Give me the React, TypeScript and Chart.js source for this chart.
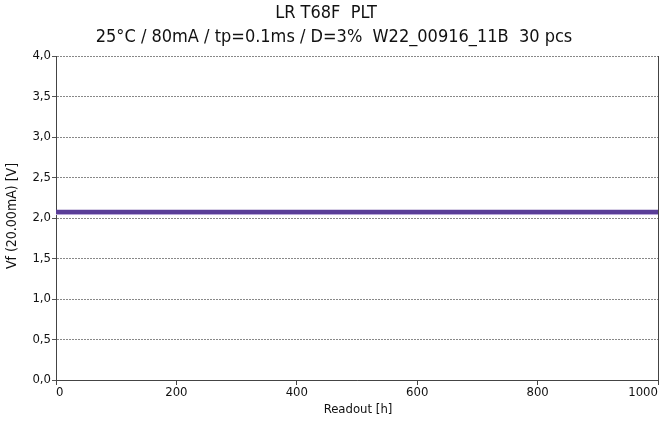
import React, { useEffect, useRef } from "react";
import { Chart, registerables } from "chart.js";

Chart.register(...registerables);

const titleLines = ["LR T68F  PLT", "25°C / 80mA / tp=0.1ms / D=3%  W22_00916_11B  30 pcs"];
const xTitle = "Readout [h]";
const yTitle = "Vf (20.00mA) [V]";
const readouts = [0, 168, 500, 1000];
const vf0 = [2.08, 2.072, 2.086, 2.075, 2.066, 2.083, 2.077, 2.07, 2.081, 2.068, 2.088, 2.075, 2.078, 2.071, 2.084, 2.076, 2.065, 2.082, 2.07, 2.079, 2.074, 2.087, 2.068, 2.076, 2.081, 2.07, 2.078, 2.074, 2.085, 2.05];
const vf168 = [2.08, 2.072, 2.086, 2.075, 2.066, 2.083, 2.077, 2.07, 2.081, 2.068, 2.088, 2.075, 2.078, 2.071, 2.084, 2.076, 2.065, 2.082, 2.07, 2.079, 2.074, 2.087, 2.068, 2.076, 2.081, 2.07, 2.078, 2.074, 2.085, 2.05];
const vf500 = [2.08, 2.072, 2.086, 2.075, 2.066, 2.083, 2.077, 2.07, 2.081, 2.068, 2.088, 2.075, 2.078, 2.071, 2.084, 2.076, 2.065, 2.082, 2.07, 2.079, 2.074, 2.087, 2.068, 2.076, 2.081, 2.07, 2.078, 2.074, 2.085, 2.05];
const vf1000 = [2.08, 2.072, 2.086, 2.075, 2.066, 2.083, 2.077, 2.07, 2.081, 2.068, 2.088, 2.075, 2.078, 2.071, 2.084, 2.076, 2.065, 2.082, 2.07, 2.079, 2.074, 2.087, 2.068, 2.076, 2.081, 2.07, 2.078, 2.074, 2.085, 2.05];
const seriesColors = ["#5b3f98", "#b8a8d8"];

const FONT = "'DejaVu Sans Condensed', 'DejaVu Sans', sans-serif";

export default function App() {
  const ref = useRef<HTMLCanvasElement | null>(null);
  useEffect(() => {
    document.body.style.margin = "0";
    const canvas = ref.current!;
    const datasets = vf0.map((_, i) => ({
      label: "pc " + (i + 1),
      data: readouts.map((x, k) => ({ x, y: [vf0, vf168, vf500, vf1000][k][i] })),
      borderColor: i === vf0.length - 1 ? seriesColors[1] : seriesColors[0],
      borderWidth: 2,
      pointRadius: 0,
      tension: 0,
      order: i === vf0.length - 1 ? 1 : 0,
    }));
    const textPlugin = {
      id: "texts",
      afterDraw(chart: any) {
        const ctx = chart.ctx;
        const a = chart.chartArea;
        ctx.save();
        ctx.strokeStyle = "#444";
        ctx.lineWidth = 1;
        ctx.beginPath();
        ctx.moveTo(a.right + 0.5, a.top);
        ctx.lineTo(a.right + 0.5, a.bottom);
        ctx.stroke();
        ctx.fillStyle = "#111";
        ctx.textAlign = "center";
        ctx.textBaseline = "middle";
        ctx.font = "18px " + FONT;
        ctx.fillText(titleLines[0], 326, 13);
        ctx.fillText(titleLines[1], 334, 37);
        ctx.font = "13px " + FONT;
        ctx.fillText(xTitle, 358, 410);
        ctx.font = "14px " + FONT;
        ctx.translate(12, 216);
        ctx.rotate(-Math.PI / 2);
        ctx.fillText(yTitle, 0, 0);
        ctx.restore();
      },
    };
    const chart = new Chart(canvas, {
      type: "line",
      data: { datasets },
      options: {
        animation: false,
        responsive: false,
        maintainAspectRatio: false,
        layout: { padding: { top: 56, right: 9, left: 0, bottom: 0 } },
        plugins: { legend: { display: false }, tooltip: { enabled: false } },
        scales: {
          x: {
            type: "linear",
            min: 0,
            max: 1000,
            ticks: {
              stepSize: 200,
              color: "#111",
              font: { family: FONT, size: 13 },
              padding: 0,
              align: "inner",
              maxRotation: 0,
              callback: (v: any) => String(v),
            },
            grid: { display: true, drawOnChartArea: false, color: "#444", tickLength: 5 },
            border: { display: true, color: "#444", width: 1 },
            afterFit(scale: any) {
              scale.height = 43;
              scale.paddingLeft = 0;
              scale.paddingRight = 0;
            },
          },
          y: {
            type: "linear",
            min: 0,
            max: 4,
            ticks: {
              stepSize: 0.5,
              color: "#111",
              font: { family: FONT, size: 13 },
              padding: 1,
              callback: (v: any) => Number(v).toFixed(1).replace(".", ","),
            },
            grid: { color: "#888", tickLength: 4, lineWidth: 1, tickColor: "#555" },
            border: { display: true, color: "#444", width: 1, dash: [2, 1] },
            afterFit(scale: any) {
              scale.width = 56;
              scale.paddingTop = 0;
              scale.paddingBottom = 0;
            },
          },
        },
      },
      plugins: [textPlugin],
    } as any);
    return () => chart.destroy();
  }, []);
  return (
    <div style={{ position: "absolute", left: 0, top: 0, width: 667, height: 423 }}>
      <canvas ref={ref} width={667} height={423} style={{ width: 667, height: 423 }} />
    </div>
  );
}
